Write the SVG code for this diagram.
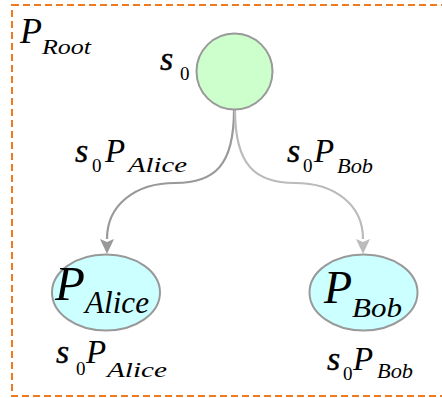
<svg xmlns="http://www.w3.org/2000/svg" width="442" height="398" viewBox="0 0 442 398">
<style>
text{font-family:"Liberation Serif","Times New Roman","DejaVu Serif",serif}
.m{font-style:italic;fill:#000}
.s{stroke:#000;stroke-width:0.4}
.n{font-style:normal}
.node{stroke:#999;stroke-width:2}
.edge{fill:none;stroke-width:2.2}
</style>
<defs>
<marker id="ahA" viewBox="0 -7 15 14" refX="0" refY="0" markerWidth="15" markerHeight="14" markerUnits="userSpaceOnUse" orient="auto"><path d="M0,-7 L15,0 L0,7 L3,0 z" fill="#999"/></marker>
<marker id="ahB" viewBox="0 -7 15 14" refX="0" refY="0" markerWidth="15" markerHeight="14" markerUnits="userSpaceOnUse" orient="auto"><path d="M0,-7 L15,0 L0,7 L3,0 z" fill="#bbb"/></marker>
</defs>
<g id="root-frame">
<rect x="12" y="5" width="440" height="391" fill="none" stroke="#f07a20" stroke-width="2" stroke-dasharray="7,4"/>
<text class="m" x="20" y="43" font-size="36" font-family="Liberation Serif">P</text>
<text class="m" x="42" y="54" font-size="20" textLength="49" lengthAdjust="spacingAndGlyphs">Root</text>
</g>
<g id="connectors">
<path class="edge" stroke="#999" d="M234,110 C234,165 215,183 175,183 C135,183 107,205 107,239" marker-end="url(#ahA)"/>
<path class="edge" stroke="#bbb" d="M235,110 C235,165 255,183 295,183 C335,183 363,205 363,239" marker-end="url(#ahB)"/>
<g id="label-alice-edge">
<text class="m s" x="75" y="162" font-size="34">s</text>
<text class="n" x="92" y="172" font-size="19">0</text>
<text class="m" x="105" y="162" font-size="33">P</text>
<text class="m" x="128" y="172" font-size="20" textLength="59" lengthAdjust="spacingAndGlyphs">Alice</text>
</g>
<g id="label-bob-edge">
<text class="m s" x="287" y="162" font-size="34">s</text>
<text class="n" x="303" y="172" font-size="19">0</text>
<text class="m" x="314" y="162" font-size="33">P</text>
<text class="m" x="337" y="173" font-size="20" textLength="36" lengthAdjust="spacingAndGlyphs">Bob</text>
</g>
</g>
<g id="node-s0">
<circle class="node" cx="234.5" cy="71.5" r="38" fill="#ccffcc"/>
<text class="m s" x="160" y="70" font-size="34">s</text>
<text class="n" x="180" y="80" font-size="19">0</text>
</g>
<g id="node-alice">
<ellipse class="node" cx="106" cy="292.5" rx="54" ry="38" fill="#ccffff"/>
<text class="m" x="55" y="300" font-size="49">P</text>
<text class="m" x="85" y="313" font-size="31" textLength="64" lengthAdjust="spacingAndGlyphs">Alice</text>
<text class="m s" x="56" y="363" font-size="34">s</text>
<text class="n" x="76" y="375" font-size="19">0</text>
<text class="m" x="86" y="363" font-size="33">P</text>
<text class="m" x="107" y="377" font-size="20" textLength="60" lengthAdjust="spacingAndGlyphs">Alice</text>
</g>
<g id="node-bob">
<ellipse class="node" cx="363.5" cy="292.5" rx="54" ry="38" fill="#ccffff"/>
<text class="m" x="324" y="303" font-size="46">P</text>
<text class="m" x="352" y="317" font-size="28" textLength="50" lengthAdjust="spacingAndGlyphs">Bob</text>
<text class="m s" x="327" y="370" font-size="34">s</text>
<text class="n" x="343" y="380" font-size="19">0</text>
<text class="m" x="353" y="370" font-size="33">P</text>
<text class="m" x="377" y="378" font-size="20" textLength="36" lengthAdjust="spacingAndGlyphs">Bob</text>
</g>
</svg>
